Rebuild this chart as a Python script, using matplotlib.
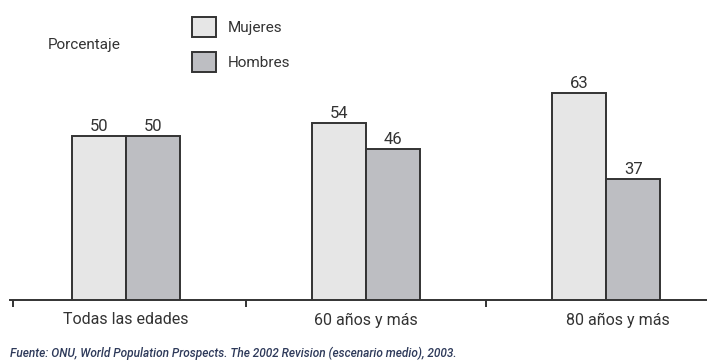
import matplotlib
matplotlib.use("Agg")
import matplotlib.pyplot as plt
from matplotlib.transforms import ScaledTranslation
import numpy as np

# ---- data ----
CATEGORIES = ["Todas las edades", "60 años y más", "80 años y más"]
MUJERES = [50, 54, 63]
HOMBRES = [50, 46, 37]
SOURCE = ("Fuente: ONU, World Population Prospects. The 2002 Revision "
          "(escenario medio), 2003.")

INK = "#333333"
LIGHT = "#e6e6e6"
DARK = "#bdbec2"

plt.rcParams["font.family"] = ["Roboto", "DejaVu Sans"]

fig = plt.figure(figsize=(7.07, 3.6), dpi=100)
ax = fig.add_axes([0, 60 / 360, 1, 300 / 360])

x = np.arange(len(CATEGORIES))
w = 0.225
b1 = ax.bar(x - w / 2, MUJERES, w, color=LIGHT, edgecolor=INK, linewidth=1.4,
            label="Mujeres", zorder=3)
b2 = ax.bar(x + w / 2, HOMBRES, w, color=DARK, edgecolor=INK, linewidth=1.4,
            label="Hombres", zorder=3)
for bars, vals in ((b1, MUJERES), (b2, HOMBRES)):
    for r, v in zip(bars, vals):
        ax.text(r.get_x() + r.get_width() / 2, v + 0.6, f"{v}", ha="center",
                va="bottom", fontsize=12, color=INK)

ax.set_xlim(-0.525, 2.42)
ax.set_ylim(0, 91.5)

for s in ("top", "right", "left"):
    ax.spines[s].set_visible(False)
ax.spines["bottom"].set_bounds(-0.483, 2.42)
ax.spines["bottom"].set_color(INK)
ax.spines["bottom"].set_linewidth(1.4)
ax.set_yticks([])

ax.set_xticks(x)
ax.set_xticklabels(CATEGORIES, fontsize=11.5, color=INK)
ax.tick_params(axis="x", which="major", length=0, pad=9)
ax.set_xticks([-0.472, 0.5, 1.5], minor=True)
ax.tick_params(axis="x", which="minor", length=5, width=1.4, color=INK)
# the last label sits a little right of its bar pair
last = ax.get_xticklabels()[-1]
last.set_transform(last.get_transform() + ScaledTranslation(0.12, 0, fig.dpi_scale_trans))

ax.text(48 / 707, 1 - 45 / 300, "Porcentaje", transform=ax.transAxes,
        fontsize=11, color=INK, va="center", ha="left")

ax.legend(handles=[b1, b2], loc="upper left", bbox_to_anchor=(178 / 707, 1 - 3 / 300),
          frameon=False, fontsize=11, handlelength=1.6, handleheight=1.65,
          labelspacing=1.0, handletextpad=0.75, labelcolor=INK)

fig.text(10 / 707, 1 - 353 / 360, SOURCE, fontsize=8.6, style="italic",
         weight="medium", color="#2e3a5a", va="center", ha="left")

fig.savefig("out.png", dpi=100)
